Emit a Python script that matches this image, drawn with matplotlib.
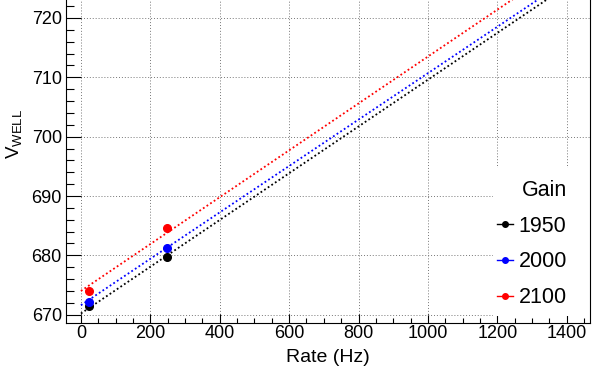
import matplotlib
matplotlib.use('Agg')
import matplotlib.pyplot as plt
from matplotlib.lines import Line2D
from matplotlib.patches import Rectangle
import numpy as np

plt.rcParams['font.family'] = ['Liberation Sans', 'DejaVu Sans']
plt.rcParams['mathtext.fontset'] = 'custom'
plt.rcParams['mathtext.rm'] = 'Liberation Sans'

# measured points
rate = [23, 247]
gains = ['1950', '2000', '2100']
colors = ['black', '#0000ff', '#ff0000']
v_1950 = [671.4, 679.7]
v_2000 = [672.2, 681.3]
v_2100 = [674.05, 684.6]

# linear fits (intercept, slope) drawn over fit range
fit_range = [0, 1400]
fit_intercept = [670.2, 671.6, 674.0]
fit_slope = [0.0394, 0.0391, 0.0395]

fig = plt.figure(figsize=(5.92, 3.71), dpi=100)
ax = fig.add_axes([66/592, 1-323/371, 524/592, 323/371])

xs = np.linspace(fit_range[0], fit_range[1], 200)
for vals, a, b, c in zip([v_1950, v_2000, v_2100], fit_intercept, fit_slope, colors):
    ax.plot(xs, a + b*xs, color=c, lw=1.3, linestyle=(0, (1, 1.4)), zorder=2)
    ax.plot(rate, vals, 'o', color=c, markersize=5.5, zorder=3)

ax.set_xlim(-43, 1467)
ax.set_ylim(668.6, 723.03)
ax.set_xticks(np.arange(0, 1401, 200))
ax.set_xticks(np.arange(0, 1467, 50), minor=True)
ax.set_yticks(np.arange(670, 721, 10))
ax.set_yticks(np.arange(670, 723, 2), minor=True)

ax.tick_params(axis='both', which='both', direction='in', width=0.8, labelsize=13)
ax.tick_params(axis='y', which='major', length=10.8, pad=3)
ax.tick_params(axis='y', which='minor', length=5.4)
ax.tick_params(axis='x', which='major', length=6.5, pad=1.5)
ax.tick_params(axis='x', which='minor', length=3.6)
ax.spines['top'].set_visible(False)
for s in ['left', 'right', 'bottom']:
    ax.spines[s].set_linewidth(0.8)

ax.set_axisbelow(True)
ax.grid(True, which='major', color='#777777', lw=0.7, linestyle=(0, (1, 2)))

# legend background hides the grid
ax.add_patch(Rectangle((0.815, 0.022), 0.185, 0.458, transform=ax.transAxes,
                       facecolor='white', edgecolor='none', zorder=1))
handles = [Line2D([], [], color=c, marker='o', markersize=4, lw=1) for c in colors]
ax.legend(handles, gains, title='Gain', loc='upper right', bbox_to_anchor=(0.977, 0.477),
          frameon=False, fontsize=15.5, title_fontsize=15.5, handlelength=0.76,
          handletextpad=0.25, labelspacing=0.69, borderpad=0, alignment='right')

fig.text(328/592, 1-357/371, 'Rate (Hz)', ha='center', va='center', fontsize=14)
fig.text(14.5/592, 1-134/371, r'$\mathrm{V}_{\mathrm{WELL}}$', rotation=90,
         ha='center', va='center', fontsize=13.5)

fig.savefig('out.png', dpi=100)
